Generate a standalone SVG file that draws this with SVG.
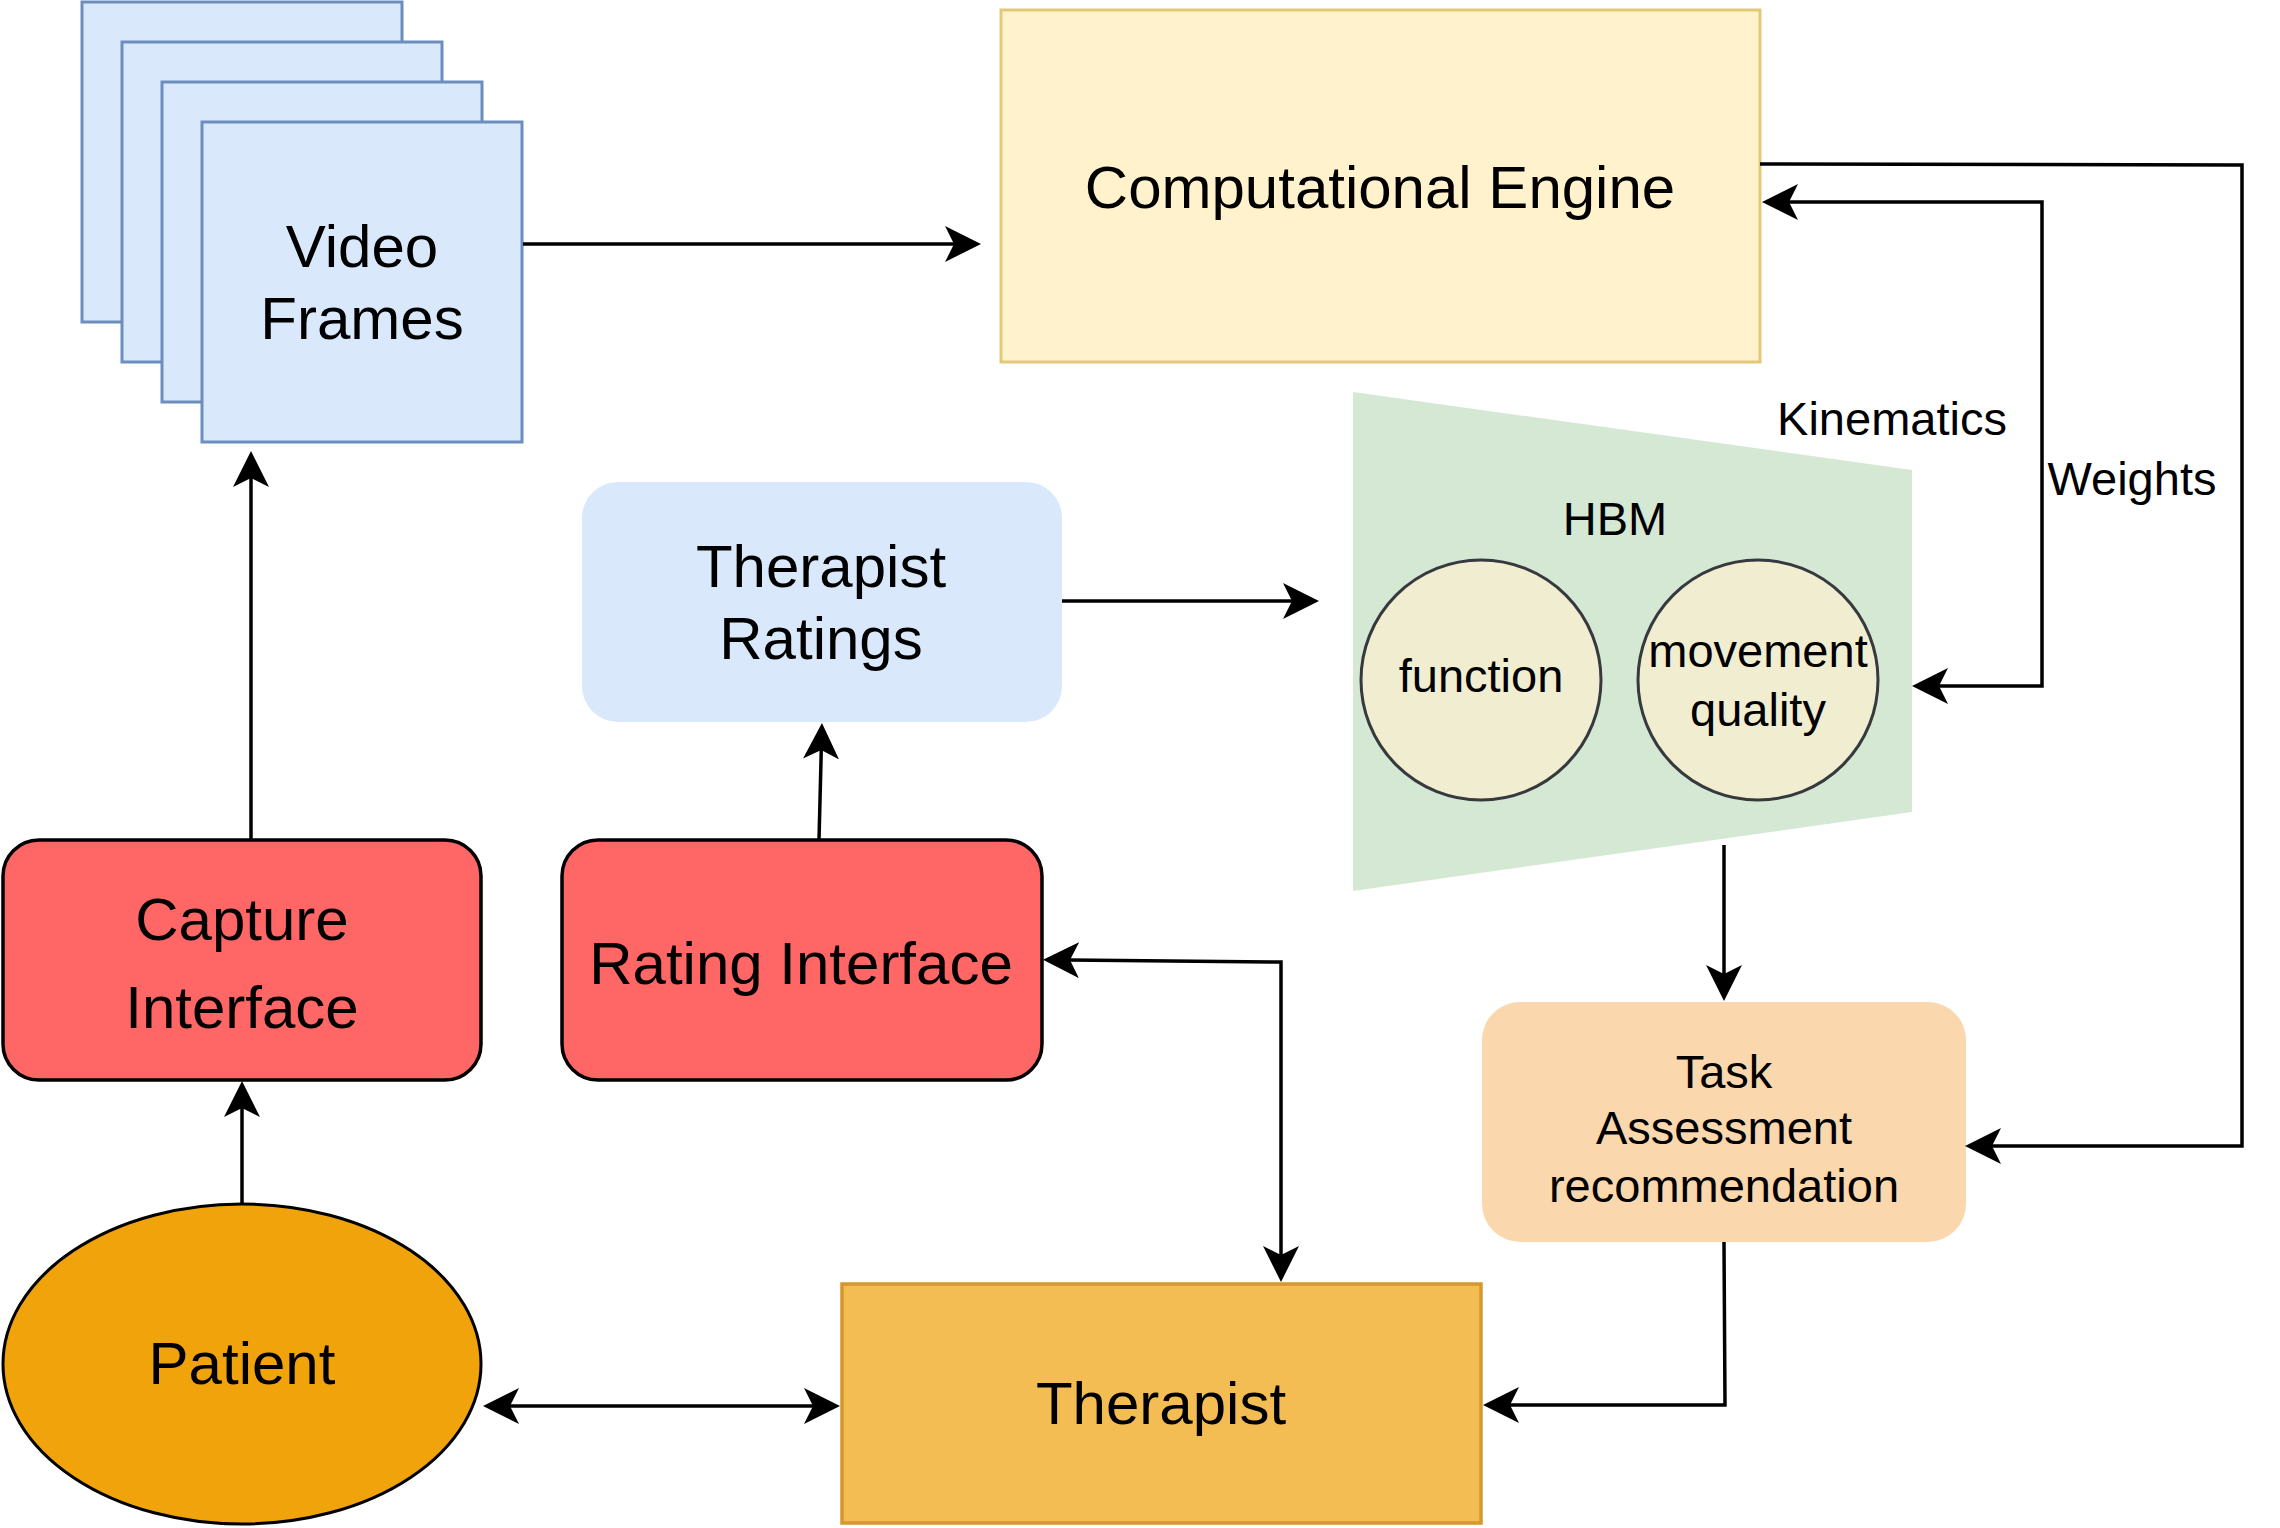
<svg xmlns="http://www.w3.org/2000/svg" width="2280" height="1528" viewBox="0 0 2280 1528">
<style>
text{font-family:"Liberation Sans",Arial,sans-serif;fill:#000;text-anchor:middle}
.big{font-size:60px}
.sm{font-size:47px}
.frame{fill:#dae8fc;stroke:#6c8ebf;stroke-width:3}
.red{fill:#ff6666;stroke:#000;stroke-width:3.5}
.circ{fill:#f0edd0;stroke:#36393d;stroke-width:3}
.edge{fill:none;stroke:#000;stroke-width:3.5}
</style>
<defs>
<marker id="arr" viewBox="0 0 36 36" markerUnits="userSpaceOnUse" markerWidth="36" markerHeight="36" refX="10" refY="18" orient="auto-start-reverse">
<path d="M0,0 L36,18 L0,36 L9,18 Z" fill="#000"/>
</marker>
</defs>
<rect width="2280" height="1528" fill="#fff"/>

<g id="video-frames">
<rect class="frame" x="82" y="2" width="320" height="320"/>
<rect class="frame" x="122" y="42" width="320" height="320"/>
<rect class="frame" x="162" y="82" width="320" height="320"/>
<rect class="frame" x="202" y="122" width="320" height="320"/>
<text class="big" x="362" y="267">Video</text>
<text class="big" x="362" y="339">Frames</text>
</g>

<g id="computational-engine">
<rect x="1001" y="10" width="759" height="352" fill="#fff2cc" stroke="#e2c979" stroke-width="3"/>
<text class="big" x="1380" y="208">Computational Engine</text>
</g>

<g id="hbm">
<polygon points="1353,392 1912,470 1912,812 1353,891" fill="#d5e8d4"/>
<text class="sm" x="1615" y="535">HBM</text>
</g>

<g id="function">
<ellipse class="circ" cx="1481" cy="680" rx="120" ry="120"/>
<text class="sm" x="1481" y="692">function</text>
</g>

<g id="movement-quality">
<ellipse class="circ" cx="1758" cy="680" rx="120" ry="120"/>
<text class="sm" x="1758" y="667">movement</text>
<text class="sm" x="1758" y="726">quality</text>
</g>

<g id="therapist-ratings">
<rect x="582" y="482" width="480" height="240" rx="36" ry="36" fill="#dae8fc"/>
<text class="big" x="821" y="587">Therapist</text>
<text class="big" x="821" y="659">Ratings</text>
</g>

<g id="capture-interface">
<rect class="red" x="3" y="840" width="478" height="240" rx="36" ry="36"/>
<text class="big" x="242" y="940">Capture</text>
<text class="big" x="242" y="1028">Interface</text>
</g>

<g id="rating-interface">
<rect class="red" x="562" y="840" width="480" height="240" rx="36" ry="36"/>
<text class="big" x="801" y="984">Rating Interface</text>
</g>

<g id="task-assessment">
<rect x="1482" y="1002" width="484" height="240" rx="38" ry="38" fill="#fad7ac"/>
<text class="sm" x="1724" y="1088">Task</text>
<text class="sm" x="1724" y="1144">Assessment</text>
<text class="sm" x="1724" y="1202">recommendation</text>
</g>

<g id="patient">
<ellipse cx="242" cy="1364" rx="239" ry="160" fill="#f0a30a" stroke="#000" stroke-width="3"/>
<text class="big" x="242" y="1384">Patient</text>
</g>

<g id="therapist">
<rect x="842" y="1284" width="639" height="239" fill="#f3bd53" stroke="#d6972c" stroke-width="3.5"/>
<text class="big" x="1161" y="1424">Therapist</text>
</g>

<g id="connectors">
<path class="edge" d="M523,244 H955" marker-end="url(#arr)"/>
<path class="edge" d="M1760,164 L2242,165 V1146 H1991" marker-end="url(#arr)"/>
<path class="edge" d="M1788,202 H2042 V686 H1938" marker-start="url(#arr)" marker-end="url(#arr)"/>
<path class="edge" d="M1062,601 H1293" marker-end="url(#arr)"/>
<path class="edge" d="M1724,845 V975" marker-end="url(#arr)"/>
<path class="edge" d="M1724,1242 L1725,1405 H1509" marker-end="url(#arr)"/>
<path class="edge" d="M1069,960 L1281,962 V1256" marker-start="url(#arr)" marker-end="url(#arr)"/>
<path class="edge" d="M509,1406 H814" marker-start="url(#arr)" marker-end="url(#arr)"/>
<path class="edge" d="M242,1203 V1107" marker-end="url(#arr)"/>
<path class="edge" d="M251,840 V477" marker-end="url(#arr)"/>
<path class="edge" d="M819,840 L821.3,749" marker-end="url(#arr)"/>
<text class="sm" x="1892" y="435">Kinematics</text>
<text class="sm" x="2132" y="495">Weights</text>
</g>
</svg>
